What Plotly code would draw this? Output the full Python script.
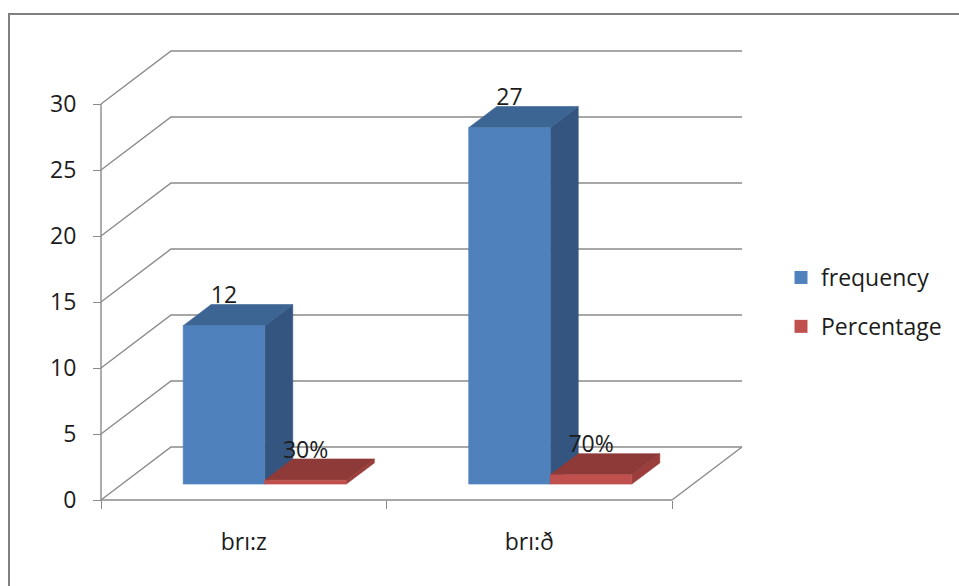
import plotly.graph_objects as go

# ---- data -------------------------------------------------------------
categories = ["brı:z", "brı:ð"]
frequency = [12, 27]
percentage = [0.30, 0.70]
y_ticks = [0, 5, 10, 15, 20, 25, 30]
series_names = ["frequency", "Percentage"]

# ---- style / geometry constants --------------------------------------
W, H = 959, 586
ORIGIN_PX = (101, 500)      # front-left corner of the floor, in pixels
CAT_PX = 285.5              # pixels per category band
UNIT_PX = 13.2              # pixels per value unit
DEPTH_PX = (70, 53)         # oblique offset from front plane to back wall
GAP = 1.5                   # gap width between clusters (fraction of a bar)
D0, D1 = 0.3, 0.7           # depth span occupied by the columns
LABEL_LIFT_PX = 7

GRID = "#8a8a8a"
TEXT = "#1c1c1c"
FONT = "Open Sans"
FS = 23

COLORS = {
    "frequency": {"front": "#4F81BD", "top": "#3D6594", "side": "#34557F"},
    "Percentage": {"front": "#C0504D", "top": "#8E3A38", "side": "#9B3E3B"},
}

DX = DEPTH_PX[0] / CAT_PX
DY = DEPTH_PX[1] / UNIT_PX
BAR_W = 1.0 / (len(series_names) + GAP)
N = len(categories)


def proj(x, v, d):
    """Oblique projection of (category x, value v, depth d) onto the plane."""
    return x + d * DX, v + d * DY


def px_x(px):
    return px / W


def px_y(py):
    return 1 - py / H


fig = go.Figure()

# ---- walls: gridlines running along side wall and back wall ----------
gx, gy = [], []
for v in y_ticks:
    for (x, d) in [(0, 0), (0, 1), (N, 1)]:
        px, py = proj(x, v, d)
        gx.append(px)
        gy.append(py)
    gx.append(None)
    gy.append(None)
# floor front edge and right edge
for pts in [[(0, 0), (N, 0)], [(N, 0), (N, 1)]]:
    for (x, d) in pts:
        px, py = proj(x, 0, d)
        gx.append(px)
        gy.append(py)
    gx.append(None)
    gy.append(None)
# front value axis line
gx += [0, 0, None]
gy += [0, y_ticks[-1], None]
fig.add_trace(go.Scatter(x=gx, y=gy, mode="lines",
                         line=dict(color=GRID, width=1.4),
                         hoverinfo="skip", showlegend=False))


def face(points, color):
    xs, ys = zip(*[proj(*p) for p in points])
    fig.add_trace(go.Scatter(
        x=list(xs) + [xs[0]], y=list(ys) + [ys[0]],
        mode="lines", fill="toself", fillcolor=color,
        line=dict(color=color, width=0.6),
        hoverinfo="skip", showlegend=False))


def column(x0, h, colors):
    x1 = x0 + BAR_W
    face([(x1, 0, D0), (x1, h, D0), (x1, h, D1), (x1, 0, D1)], colors["side"])
    face([(x0, h, D0), (x1, h, D0), (x1, h, D1), (x0, h, D1)], colors["top"])
    face([(x0, 0, D0), (x1, 0, D0), (x1, h, D0), (x0, h, D0)], colors["front"])


series_values = {"frequency": frequency, "Percentage": percentage}
label_text = {
    "frequency": [f"{v:g}" for v in frequency],
    "Percentage": [f"{v:.0%}" for v in percentage],
}

lx, ly, lt = [], [], []
for i in range(N):
    start = i + 0.5 - BAR_W * len(series_names) / 2
    for k, name in enumerate(series_names):
        x0 = start + k * BAR_W
        h = series_values[name][i]
        column(x0, h, COLORS[name])
        cx, _ = proj(x0 + BAR_W / 2, h, D0)
        _, cy = proj(x0 + BAR_W / 2, h, D1)
        lx.append(cx)
        ly.append(cy + LABEL_LIFT_PX / UNIT_PX)
        lt.append(label_text[name][i])

fig.add_trace(go.Scatter(x=lx, y=ly, text=lt, mode="text",
                         textposition="middle center",
                         textfont=dict(family=FONT, size=FS, color=TEXT),
                         cliponaxis=False, hoverinfo="skip", showlegend=False))

# legend entries
for k, name in enumerate(series_names):
    fig.add_trace(go.Scatter(x=[None], y=[None], mode="markers", name=name,
                             legendgroup=name,
                             marker=dict(symbol="square", size=13,
                                         color=COLORS[name]["front"],
                                         line=dict(width=0))))

x_range = [-ORIGIN_PX[0] / CAT_PX, (W - ORIGIN_PX[0]) / CAT_PX]
y_range = [-(H - ORIGIN_PX[1]) / UNIT_PX, ORIGIN_PX[1] / UNIT_PX]

fig.update_layout(
    width=W, height=H,
    margin=dict(l=0, r=0, t=0, b=0),
    paper_bgcolor="white", plot_bgcolor="white",
    font=dict(family=FONT, size=FS, color=TEXT),
    xaxis=dict(range=x_range, domain=[0, 1], anchor="free",
               position=px_y(ORIGIN_PX[1]),
               tickvals=[i + 0.5 for i in range(N)], ticktext=categories,
               ticks="", ticklabelstandoff=26,
               minor=dict(tickvals=list(range(N + 1)), ticks="outside",
                          ticklen=8, tickwidth=1.4, tickcolor=GRID),
               showline=False, showgrid=False, zeroline=False,
               automargin=False, fixedrange=True),
    yaxis=dict(range=y_range, domain=[0, 1], anchor="free",
               position=px_x(ORIGIN_PX[0]),
               tickvals=y_ticks, ticks="outside", ticklen=8,
               tickwidth=1.4, tickcolor=GRID, ticklabelstandoff=12,
               showline=False, showgrid=False, zeroline=False,
               automargin=False, fixedrange=True),
    legend=dict(x=px_x(781), y=px_y(256), xanchor="left", yanchor="top",
                traceorder="grouped", tracegroupgap=16,
                font=dict(family=FONT, size=FS, color=TEXT),
                bgcolor="rgba(0,0,0,0)", borderwidth=0),
    shapes=[dict(type="rect", xref="paper", yref="paper",
                 x0=px_x(9), x1=1.02, y0=-0.02, y1=px_y(14),
                 line=dict(color="#808080", width=2))],
    showlegend=True,
)

fig.write_html("out.html")
